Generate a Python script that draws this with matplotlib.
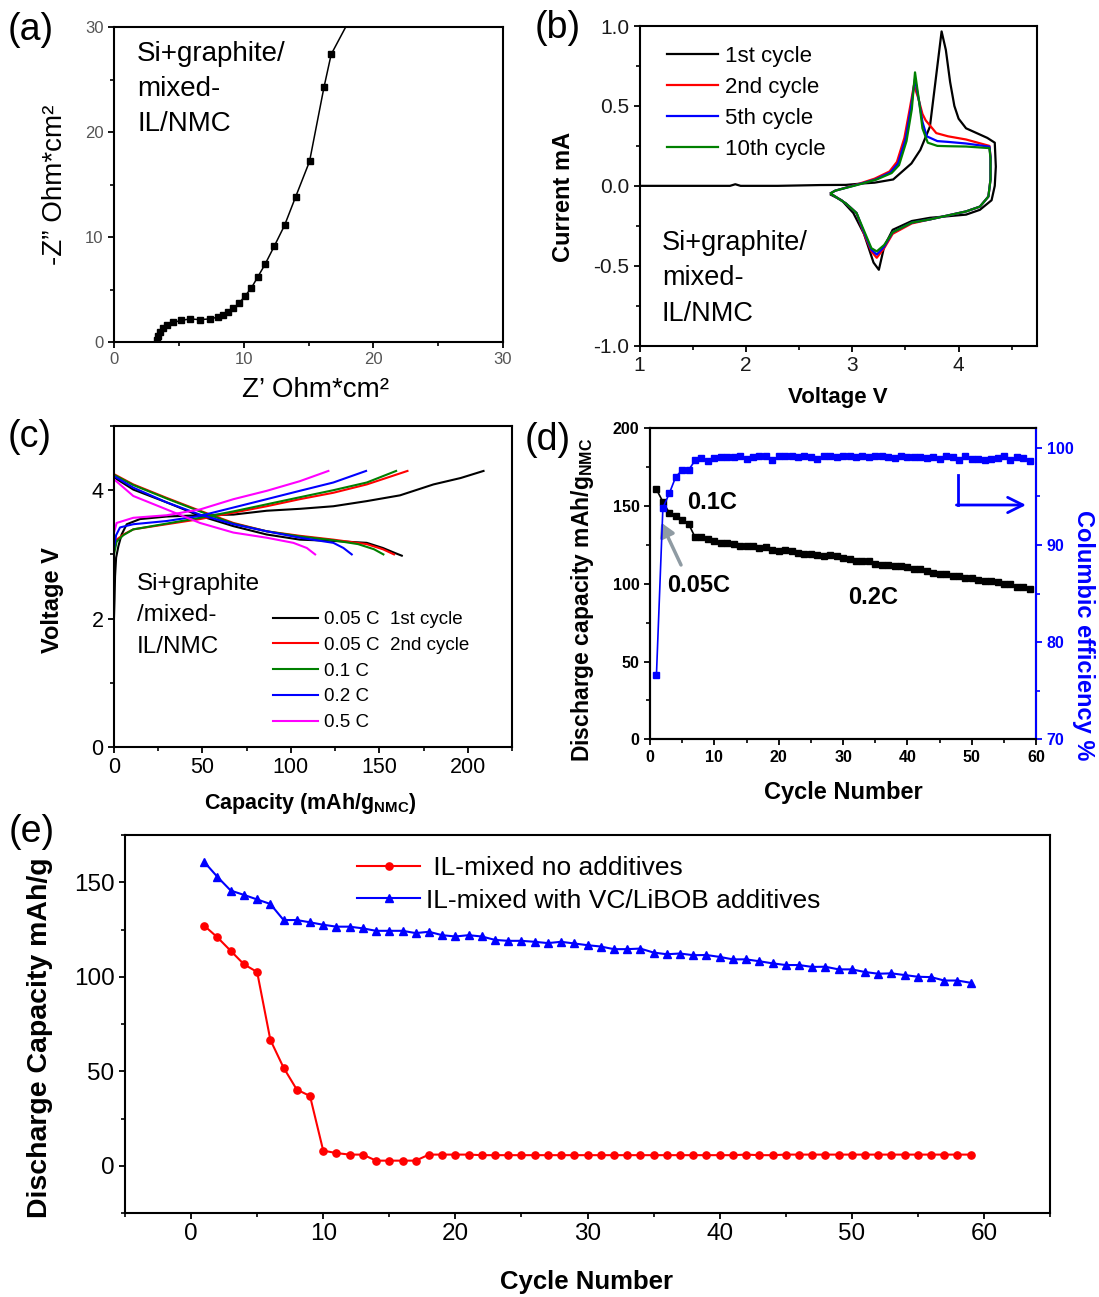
import matplotlib
matplotlib.use("Agg")
import matplotlib.pyplot as plt
from matplotlib.ticker import MultipleLocator, FormatStrFormatter
from matplotlib.lines import Line2D

# ---------------- data ----------------
# (a) Nyquist plot
z_real = [3.34, 3.42, 3.55, 3.76, 4.06, 4.58, 5.2, 5.87, 6.6, 7.4, 8.05, 8.44, 8.82,
          9.2, 9.65, 10.08, 10.57, 11.09, 11.65, 12.35, 13.15, 14.0, 15.08, 16.2, 16.75, 18.3]
z_imag = [0.16, 0.54, 1.0, 1.33, 1.65, 1.87, 2.06, 2.2, 2.13, 2.2, 2.38, 2.54, 2.86,
          3.2, 3.7, 4.35, 5.1, 6.2, 7.4, 9.1, 11.1, 13.8, 17.2, 24.3, 27.4, 31.0]

# (b) cyclic voltammetry
cv_labels = ["1st cycle", "2nd cycle", "5th cycle", "10th cycle"]
cv_colors = ["#000000", "#ff0000", "#0000ff", "#008000"]
cv_v_1 = [1.0, 1.5, 1.85, 1.9, 1.95, 2.3, 2.7, 2.94, 3.1, 3.21, 3.385, 3.556, 3.64, 3.73,
          3.78, 3.84, 3.88, 3.92, 3.96, 4.0, 4.07, 4.17, 4.27, 4.34, 4.35, 4.34, 4.31, 4.2, 4.07,
          3.9, 3.73, 3.56, 3.38, 3.3, 3.25, 3.2, 3.11, 3.01, 2.9, 2.8]
cv_i_1 = [0.0, 0.0, 0.0, 0.01, 0.0, 0.0, 0.005, 0.006, 0.015, 0.02, 0.04, 0.14, 0.225, 0.37,
          0.64, 0.966, 0.85, 0.65, 0.5, 0.42, 0.36, 0.33, 0.30, 0.27, 0.12, 0.0, -0.09, -0.15,
          -0.18, -0.19, -0.2, -0.22, -0.275, -0.38, -0.525, -0.48, -0.3, -0.17, -0.09, -0.056]
cv_v_2 = [2.8, 2.84, 3.04, 3.21, 3.35, 3.42, 3.49, 3.54, 3.58, 3.62, 3.66, 3.69, 3.79, 3.9,
          4.07, 4.29, 4.30, 4.30, 4.28, 4.2, 4.07, 3.73, 3.56, 3.38, 3.3, 3.23, 3.18, 3.11,
          3.04, 2.94, 2.84, 2.8]
cv_i_2 = [-0.045, -0.03, 0.008, 0.045, 0.09, 0.15, 0.3, 0.48, 0.63, 0.55, 0.45, 0.41, 0.33,
          0.31, 0.29, 0.25, 0.18, 0.04, -0.067, -0.13, -0.16, -0.21, -0.235, -0.3, -0.39,
          -0.45, -0.41, -0.3, -0.17, -0.11, -0.067, -0.05]
cv_v_5 = [2.8, 2.84, 3.05, 3.22, 3.36, 3.43, 3.5, 3.55, 3.59, 3.63, 3.66, 3.7, 3.8, 3.9,
          4.07, 4.29, 4.30, 4.30, 4.28, 4.2, 4.07, 3.73, 3.56, 3.38, 3.3, 3.23, 3.18, 3.11,
          3.04, 2.94, 2.84, 2.8]
cv_i_5 = [-0.045, -0.03, 0.008, 0.04, 0.085, 0.14, 0.29, 0.48, 0.67, 0.52, 0.4, 0.31, 0.28,
          0.275, 0.265, 0.245, 0.18, 0.04, -0.067, -0.13, -0.16, -0.21, -0.23, -0.29, -0.38,
          -0.43, -0.4, -0.29, -0.17, -0.11, -0.067, -0.05]
cv_v_10 = [2.8, 2.84, 3.06, 3.23, 3.37, 3.44, 3.51, 3.56, 3.59, 3.63, 3.66, 3.71, 3.8, 3.9,
           4.07, 4.29, 4.30, 4.30, 4.28, 4.2, 4.07, 3.73, 3.56, 3.38, 3.3, 3.23, 3.18, 3.11,
           3.04, 2.94, 2.84, 2.8]
cv_i_10 = [-0.045, -0.03, 0.008, 0.04, 0.08, 0.13, 0.28, 0.48, 0.71, 0.52, 0.36, 0.27, 0.25,
           0.248, 0.246, 0.236, 0.17, 0.04, -0.067, -0.13, -0.16, -0.21, -0.23, -0.29, -0.37,
           -0.41, -0.39, -0.28, -0.17, -0.11, -0.067, -0.05]

# (c) charge / discharge profiles
cd_labels = ["0.05 C  1st cycle", "0.05 C  2nd cycle", "0.1 C", "0.2 C", "0.5 C"]
cd_colors = ["#000000", "#ff0000", "#008000", "#0000ff", "#ff00ff"]
chg_cap_005a = [0, 0.3, 0.6, 1.2, 2.5, 4.3, 7.2, 14.7, 29.8, 48.6, 67.5, 86.3, 105.2, 124,
                142.9, 161.7, 180.6, 196, 208.9]
chg_v_005a = [2.02, 2.3, 2.66, 2.95, 3.13, 3.31, 3.47, 3.55, 3.59, 3.61, 3.62, 3.68, 3.71,
              3.75, 3.83, 3.92, 4.09, 4.19, 4.30]
dis_cap_005a = [0, 10.9, 29.8, 48.6, 67.5, 86.3, 105, 124, 142.9, 152, 159, 162.7]
dis_v_005a = [4.20, 4.01, 3.81, 3.60, 3.44, 3.31, 3.23, 3.21, 3.18, 3.10, 3.02, 2.98]
chg_cap_005b = [0, 1.5, 5.3, 10.9, 29.8, 48.6, 67.5, 86.3, 105, 124, 142.9, 165.9]
chg_v_005b = [3.08, 3.23, 3.31, 3.39, 3.47, 3.55, 3.65, 3.75, 3.86, 3.96, 4.09, 4.30]
dis_cap_005b = [0, 10.9, 29.8, 48.6, 67.5, 86.3, 105, 124, 142.9, 152, 158.3]
dis_v_005b = [4.25, 4.09, 3.88, 3.68, 3.49, 3.36, 3.29, 3.23, 3.16, 3.08, 3.0]
chg_cap_01 = [0, 1.5, 5.3, 10.9, 29.8, 48.6, 67.5, 86.3, 105, 124, 142.9, 159.5]
chg_v_01 = [3.0, 3.2, 3.3, 3.39, 3.48, 3.57, 3.67, 3.78, 3.89, 4.0, 4.12, 4.30]
dis_cap_01 = [0, 10.9, 29.8, 48.6, 67.5, 86.3, 105, 124, 138, 147, 152.3]
dis_v_01 = [4.24, 4.08, 3.87, 3.67, 3.48, 3.36, 3.28, 3.22, 3.16, 3.08, 3.0]
chg_cap_02 = [0, 1.2, 3.4, 10.9, 29.8, 48.6, 67.5, 86.3, 105, 124, 142.5]
chg_v_02 = [3.1, 3.3, 3.42, 3.47, 3.52, 3.60, 3.73, 3.86, 3.99, 4.12, 4.30]
dis_cap_02 = [0, 10.9, 29.8, 48.6, 67.5, 86.3, 105, 124, 129.7, 134.4]
dis_v_02 = [4.22, 4.04, 3.81, 3.62, 3.47, 3.36, 3.26, 3.18, 3.10, 3.0]
chg_cap_05 = [0, 1.5, 10.9, 29.8, 48.6, 67.5, 86.3, 105, 121.2]
chg_v_05 = [3.34, 3.49, 3.57, 3.61, 3.70, 3.86, 3.99, 4.14, 4.30]
dis_cap_05 = [0, 10.9, 29.8, 48.6, 67.5, 86.3, 101.4, 109, 113.7]
dis_v_05 = [4.17, 3.91, 3.70, 3.49, 3.34, 3.26, 3.18, 3.10, 3.0]

# (d) / (e) cycling
cycles = list(range(1, 60))
capacity_additives = [160.7, 152.8, 145.6, 143.3, 140.9, 138.5, 130.0, 130.0, 128.8, 127.5,
                      126.5, 126.5, 125.6, 124.3, 124.3, 124.3, 123.1, 123.8, 122.0, 121.3,
                      122.0, 121.3, 119.5, 119.0, 119.0, 118.5, 117.8, 118.5, 117.6, 116.7,
                      116.0, 114.6, 114.6, 114.9, 112.8, 111.9, 112.3, 111.4, 111.5, 110.5,
                      109.2, 109.2, 108.2, 107.1, 106.2, 106.2, 105.2, 105.3, 103.9, 103.9,
                      102.5, 101.6, 101.8, 100.9, 100.0, 99.8, 98.0, 98.0, 96.8]
coulombic_eff = [76.6, 93.8, 95.3, 97.0, 97.7, 97.7, 98.7, 98.9, 98.6, 98.9,
                 99.0, 99.0, 99.0, 99.2, 98.8, 99.0, 99.1, 99.2, 98.7, 99.1,
                 99.2, 99.1, 99.0, 99.1, 99.0, 98.8, 99.1, 99.1, 99.0, 99.1,
                 99.1, 99.0, 99.1, 99.0, 99.1, 99.1, 99.0, 98.9, 99.1, 99.0,
                 99.0, 99.0, 98.9, 99.0, 98.8, 99.1, 99.0, 98.7, 99.2, 98.8,
                 98.8, 98.7, 98.8, 98.9, 99.1, 98.7, 99.0, 98.9, 98.6]
capacity_no_additives = [127.0, 120.8, 113.7, 106.6, 102.5, 66.6, 51.9, 40.3, 36.9, 8.0,
                         6.7, 5.9, 5.9, 2.7, 2.7, 2.7, 2.7, 5.9, 5.9, 5.9,
                         5.9, 5.6, 5.6, 5.6, 5.6, 5.6, 5.6, 5.6, 5.6, 5.6,
                         5.6, 5.6, 5.6, 5.6, 5.6, 5.6, 5.6, 5.6, 5.6, 5.6,
                         5.6, 5.9, 5.6, 5.6, 5.9, 5.9, 5.9, 5.9, 5.9, 5.9,
                         5.9, 5.9, 5.9, 5.9, 5.9, 5.9, 5.9, 5.9, 5.9]
legend_e = [" IL-mixed no additives", "IL-mixed with VC/LiBOB additives"]

# ---------------- style ----------------
plt.rcParams.update({
    "font.family": ["Liberation Sans", "DejaVu Sans"],
    "axes.linewidth": 1.5,
    "axes.unicode_minus": False,
    "mathtext.fontset": "custom",
    "mathtext.rm": "Liberation Sans",
    "mathtext.it": "Liberation Sans:italic",
    "mathtext.bf": "Liberation Sans:bold",
    "xtick.direction": "out", "ytick.direction": "out",
    "xtick.major.size": 4.5, "ytick.major.size": 4.5,
    "xtick.minor.size": 3, "ytick.minor.size": 3,
    "xtick.major.width": 1.3, "ytick.major.width": 1.3,
    "xtick.minor.width": 1.2, "ytick.minor.width": 1.2,
    "xtick.major.pad": 3, "ytick.major.pad": 3,
})

W, H = 1099, 1297
fig = plt.figure(figsize=(W / 100, H / 100), dpi=100)


def add_ax(l, t, r, b):
    ax = fig.add_axes([l / W, 1 - b / H, (r - l) / W, (b - t) / H])
    ax._px = (l, t, r, b)
    return ax


def to_axes(ax, px, py):
    l, t, r, b = ax._px
    return (px - l) / (r - l), (b - py) / (b - t)


def place_xlabel(ax, px, py):
    x, y = to_axes(ax, px, py)
    ax.xaxis.set_label_coords(x, y)
    ax.xaxis.label.set_va("center")


def place_ylabel(ax, px, py, axis=None):
    x, y = to_axes(ax, px, py)
    axis = axis or ax.yaxis
    axis.set_label_coords(x, y)
    axis.label.set_va("center")
    axis.label.set_ha("center")


# panel letters
for letter, (px, py) in zip("abcde", [(8, 30), (535, 28), (8, 437), (525, 440), (9, 832)]):
    fig.text(px / W, 1 - py / H, f"({letter})", fontsize=27, ha="left", va="center")

# ---------------- (a) ----------------
axa = add_ax(114, 27, 503, 342)
axa.plot(z_real, z_imag, color="k", lw=1.1, marker="s", ms=4.3)
axa.set_xlim(0, 30)
axa.set_ylim(0, 30)
for axis in (axa.xaxis, axa.yaxis):
    axis.set_major_locator(MultipleLocator(10))
    axis.set_minor_locator(MultipleLocator(5))
axa.tick_params(labelsize=12, labelcolor="#555555")
axa.set_xlabel("Z\u2019 Ohm*cm\u00b2", fontsize=20)
axa.set_ylabel("-Z\u201d Ohm*cm\u00b2", fontsize=20)
place_xlabel(axa, 315, 390)
place_ylabel(axa, 55, 185)
axa.text(*to_axes(axa, 137, 41), "Si+graphite/\nmixed-\nIL/NMC", transform=axa.transAxes,
         fontsize=20, va="top", ha="left", linespacing=1.45)

# ---------------- (b) ----------------
axb = add_ax(639.6, 26, 1037.3, 345.7)
for v, i, c, lab in zip([cv_v_1, cv_v_2, cv_v_5, cv_v_10], [cv_i_1, cv_i_2, cv_i_5, cv_i_10],
                        cv_colors, cv_labels):
    axb.plot(v, i, color=c, lw=1.6, label=lab)
axb.set_xlim(1, 4.74)
axb.set_ylim(-1, 1)
axb.xaxis.set_major_locator(MultipleLocator(1))
axb.xaxis.set_minor_locator(MultipleLocator(0.5))
axb.yaxis.set_major_locator(MultipleLocator(0.5))
axb.yaxis.set_minor_locator(MultipleLocator(0.25))
axb.yaxis.set_major_formatter(FormatStrFormatter("%.1f"))
axb.tick_params(labelsize=15, labelcolor="#1a1a1a")
axb.set_xlabel("Voltage V", fontsize=16, fontweight="bold")
axb.set_ylabel("Current mA", fontsize=17, fontweight="bold")
place_xlabel(axb, 838, 398)
place_ylabel(axb, 563, 197)
axb.legend(loc="upper left", bbox_to_anchor=to_axes(axb, 667, 46), frameon=False, fontsize=16,
           handlelength=2.3, handletextpad=0.3, labelspacing=0.45, borderpad=0, borderaxespad=0)
axb.text(*to_axes(axb, 662, 230), "Si+graphite/\nmixed-\nIL/NMC", transform=axb.transAxes,
         fontsize=19.5, va="top", ha="left", linespacing=1.47)

# ---------------- (c) ----------------
axc = add_ax(114, 426, 512, 747)
profiles = [(chg_cap_005a, chg_v_005a, dis_cap_005a, dis_v_005a),
            (chg_cap_005b, chg_v_005b, dis_cap_005b, dis_v_005b),
            (chg_cap_01, chg_v_01, dis_cap_01, dis_v_01),
            (chg_cap_02, chg_v_02, dis_cap_02, dis_v_02),
            (chg_cap_05, chg_v_05, dis_cap_05, dis_v_05)]
for (cc, cv, dc, dv), col, lab in zip(profiles, cd_colors, cd_labels):
    axc.plot(cc, cv, color=col, lw=1.5, label=lab)
    axc.plot(dc, dv, color=col, lw=1.5)
axc.set_xlim(0, 225)
axc.set_ylim(0, 5.0)
axc.xaxis.set_major_locator(MultipleLocator(50))
axc.xaxis.set_minor_locator(MultipleLocator(25))
axc.yaxis.set_major_locator(MultipleLocator(2))
axc.yaxis.set_minor_locator(MultipleLocator(1))
axc.tick_params(labelsize=15.5)
axc.set_xlabel(r"Capacity (mAh/g$_{\mathbf{NMC}}$)", fontsize=15.5, fontweight="bold")
axc.set_ylabel("Voltage V", fontsize=17, fontweight="bold")
place_xlabel(axc, 310, 803)
place_ylabel(axc, 52, 600)
axc.legend(loc="upper left", bbox_to_anchor=to_axes(axc, 273, 611), frameon=False, fontsize=13.5,
           handlelength=2.4, handletextpad=0.3, labelspacing=0.46, borderpad=0, borderaxespad=0)
axc.text(*to_axes(axc, 137, 573), "Si+graphite\n/mixed-\nIL/NMC", transform=axc.transAxes,
         fontsize=17.5, va="top", ha="left", linespacing=1.55)

# ---------------- (d) ----------------
axd = add_ax(650, 428.3, 1036.2, 739.3)
axd.plot(cycles, capacity_additives, color="k", lw=1.2, marker="s", ms=4.5)
axd.set_xlim(0, 60)
axd.set_ylim(0, 200)
axd.xaxis.set_major_locator(MultipleLocator(10))
axd.xaxis.set_minor_locator(MultipleLocator(5))
axd.yaxis.set_major_locator(MultipleLocator(50))
axd.yaxis.set_minor_locator(MultipleLocator(25))
axd.tick_params(labelsize=11.5)
for lbl in axd.get_xticklabels() + axd.get_yticklabels():
    lbl.set_fontweight("bold")
axd.set_xlabel("Cycle Number", fontsize=17, fontweight="bold")
axd.set_ylabel(r"Discharge capacity mAh/g$_{\mathbf{NMC}}$", fontsize=16.5, fontweight="bold")
place_xlabel(axd, 843, 793)
place_ylabel(axd, 583, 600)

axd2 = axd.twinx()
axd2.plot(cycles, coulombic_eff, color="#0000ff", lw=1.2, marker="s", ms=4.5)
axd2.set_ylim(70, 102)
axd2.yaxis.set_major_locator(MultipleLocator(10))
axd2.yaxis.set_minor_locator(MultipleLocator(5))
axd2.tick_params(axis="y", which="both", colors="#0000ff", labelsize=11.5)
for lbl in axd2.get_yticklabels():
    lbl.set_fontweight("bold")
axd2.spines["right"].set_color("#0000ff")
axd2.set_ylabel("Columbic efficiency %", fontsize=17, fontweight="bold", color="#0000ff",
                rotation=270)
place_ylabel(axd, 1083, 635, axis=axd2.yaxis)

axd.text(9.6, 152.6, "0.1C", fontsize=17, fontweight="bold", ha="center", va="center")
axd.text(7.6, 99.2, "0.05C", fontsize=17, fontweight="bold", ha="center", va="center")
axd.text(34.6, 90.9, "0.2C", fontsize=17, fontweight="bold", ha="center", va="center")
axd.annotate("", xy=(1.55, 141), xytext=(5.0, 110.5),
             arrowprops=dict(arrowstyle="-|>,head_length=0.8,head_width=0.45",
                             color="#8f9ba3", lw=2.5))
vx, vy0 = to_axes(axd, 957.6, 475)
_, vy1 = to_axes(axd, 957.6, 505)
hx, _ = to_axes(axd, 1026, 505)
axd.add_line(Line2D([vx, vx], [vy0, vy1], transform=axd.transAxes, color="#0000ff", lw=2))
axd.annotate("", xy=(hx, vy1), xytext=(vx - 0.003, vy1), xycoords="axes fraction",
             textcoords="axes fraction",
             arrowprops=dict(arrowstyle="->,head_length=1.1,head_width=0.55",
                             color="#0000ff", lw=2, shrinkA=0, shrinkB=0))

# ---------------- (e) ----------------
axe = add_ax(125, 835, 1050, 1213)
axe.plot(cycles, capacity_no_additives, color="#ff0000", lw=1.5, marker="o", ms=5.2,
         label=legend_e[0])
axe.plot(cycles, capacity_additives, color="#0000ff", lw=1.5, marker="^", ms=6.3,
         label=legend_e[1])
axe.set_xlim(-5, 65)
axe.set_ylim(-25, 175)
axe.xaxis.set_major_locator(MultipleLocator(10))
axe.xaxis.set_minor_locator(MultipleLocator(5))
axe.yaxis.set_major_locator(MultipleLocator(50))
axe.yaxis.set_minor_locator(MultipleLocator(25))
axe.tick_params(labelsize=17.5)
axe.set_xlabel("Cycle Number", fontsize=18.5, fontweight="bold")
axe.set_ylabel("Discharge Capacity mAh/g", fontsize=20.5, fontweight="bold")
place_xlabel(axe, 587, 1282)
place_ylabel(axe, 40, 1038)
axe.legend(loc="upper left", bbox_to_anchor=to_axes(axe, 357, 856), frameon=False, fontsize=19,
           handlelength=2.4, handletextpad=0.2, labelspacing=0.33, borderpad=0, borderaxespad=0)

fig.savefig("out.png", dpi=100)
